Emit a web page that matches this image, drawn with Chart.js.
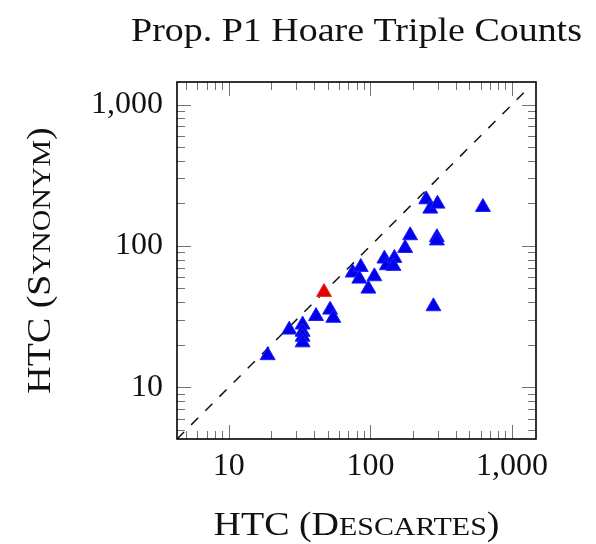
<!DOCTYPE html>
<html>
<head>
<meta charset="utf-8">
<script src="https://cdn.jsdelivr.net/npm/chart.js@4.4.1/dist/chart.umd.min.js"></script>
<style>
    html, body { margin: 0; padding: 0; background: #fff; }
    #wrap { width: 596px; height: 544px; }
</style>
</head>
<body>
<div id="wrap"><canvas id="htcChart" width="596" height="544"></canvas></div>
<script>
// Данные
const chartTitle = 'Prop. P1 Hoare Triple Counts';
const xTitle = 'HTC (Descartes)';
const yTitle = 'HTC (Synonym)';

const descartesHtc = [18.8, 26.7, 33.2, 33.2, 33.2, 33.2, 41.3, 51.9, 54.7, 75, 85.5, 83.5, 96.8,
    106.7, 125.6, 130.6, 147.8, 145.5, 176, 191, 248, 265, 298, 295, 295, 279, 624];
const synonymHtc = [16.8, 25.5, 27.7, 24.6, 22.7, 20.7, 31.8, 35.3, 30.9, 64.6, 70.8, 58.5, 49.7,
    60.8, 81.1, 72.8, 82.0, 72.0, 96.4, 118.6, 213, 183, 198.5, 115, 109, 37.3, 188];

// Выделенная точка (красная)
const highlightX = [47.0];
const highlightY = [47.1];

// Диагональ y = x
const diagonalEnds = [4.3, 1250];

// Подписи делений и границы осей
const majorTicks = [10, 100, 1000];
const xRange = [4.3, 1480];
const yRange = [4.3, 1445];

const FONT = "'Liberation Serif', 'Times New Roman', serif";
const FONT_SIZE = 32;
const TITLE_SIZE = 33;
const STRETCH = 1.15; // Computer Modern шире, чем Times

function toPoints(xs, ys) {
    return xs.map((x, i) => ({ x: x, y: ys[i] }));
}

function isDecadeMultiple(v) {
    const m = v / Math.pow(10, Math.floor(Math.log10(v) + 1e-9));
    return Math.abs(m - Math.round(m)) < 1e-6;
}

function isMajor(v) {
    return majorTicks.some(t => Math.abs(t - v) < 1e-6);
}

// Текст по центру (x, y), растянутый по горизонтали; smallCaps — капитель
function drawText(ctx, text, x, y, size, smallCaps) {
    const small = Math.round(size * 0.8);
    const runs = [];
    for (const ch of text) {
        const lower = smallCaps && ch !== ch.toUpperCase();
        const s = lower ? small : size;
        const c = lower ? ch.toUpperCase() : ch;
        if (runs.length && runs[runs.length - 1].size === s) runs[runs.length - 1].text += c;
        else runs.push({ text: c, size: s });
    }
    let total = 0;
    runs.forEach(r => {
        ctx.font = r.size + 'px ' + FONT;
        r.width = ctx.measureText(r.text).width;
        total += r.width;
    });
    ctx.save();
    ctx.translate(x, y);
    ctx.scale(STRETCH, 1);
    ctx.textAlign = 'left';
    let cx = -total / 2;
    runs.forEach(r => {
        ctx.font = r.size + 'px ' + FONT;
        ctx.fillText(r.text, cx, 0);
        cx += r.width;
    });
    ctx.restore();
}

const framePlugin = {
    id: 'frame',
    afterDraw(chart) {
        const ctx = chart.ctx;
        const a = chart.chartArea;
        const xs = chart.scales.x;
        const ys = chart.scales.y;
        ctx.save();

        // Деления внутри области, на всех четырёх сторонах
        ctx.strokeStyle = 'rgba(0,0,0,0.55)';
        ctx.lineWidth = 1;
        ctx.beginPath();
        xs.ticks.forEach(t => {
            if (!isDecadeMultiple(t.value)) return;
            const px = Math.round(xs.getPixelForValue(t.value)) + 0.5;
            const len = isMajor(t.value) ? 14 : 8;
            ctx.moveTo(px, a.bottom); ctx.lineTo(px, a.bottom - len);
            ctx.moveTo(px, a.top); ctx.lineTo(px, a.top + len);
        });
        ys.ticks.forEach(t => {
            if (!isDecadeMultiple(t.value)) return;
            const py = Math.round(ys.getPixelForValue(t.value)) + 0.5;
            const len = isMajor(t.value) ? 14 : 8;
            ctx.moveTo(a.left, py); ctx.lineTo(a.left + len, py);
            ctx.moveTo(a.right, py); ctx.lineTo(a.right - len, py);
        });
        ctx.stroke();

        // Рамка
        ctx.strokeStyle = '#000';
        ctx.lineWidth = 1.6;
        ctx.strokeRect(a.left, a.top, a.right - a.left, a.bottom - a.top);

        // Заголовки
        ctx.fillStyle = '#111';
        ctx.textBaseline = 'alphabetic';
        drawText(ctx, chartTitle, (a.left + a.right) / 2, 41, TITLE_SIZE, false);
        drawText(ctx, xTitle, (a.left + a.right) / 2, 535, TITLE_SIZE, true);

        ctx.translate(50, (a.top + a.bottom) / 2);
        ctx.rotate(-Math.PI / 2);
        drawText(ctx, yTitle, 0, 0, TITLE_SIZE, true);
        ctx.restore();
    }
};

const tickOptions = {
    autoSkip: false,
    maxRotation: 0,
    color: '#111',
    font: { family: FONT, size: FONT_SIZE },
    callback: (value) => isMajor(value) ? Number(value).toLocaleString('en-US') : ''
};

new Chart(document.getElementById('htcChart'), {
    type: 'scatter',
    data: {
        datasets: [
            {
                label: 'highlight',
                data: toPoints(highlightX, highlightY),
                pointStyle: 'triangle',
                pointRadius: 8.6,
                pointHoverRadius: 8.6,
                backgroundColor: 'rgb(225,0,0)',
                borderColor: 'rgb(240,40,40)',
                borderWidth: 1
            },
            {
                label: 'benchmarks',
                data: toPoints(descartesHtc, synonymHtc),
                pointStyle: 'triangle',
                pointRadius: 8.6,
                pointHoverRadius: 8.6,
                backgroundColor: 'rgb(0,0,235)',
                borderColor: 'rgb(30,30,250)',
                borderWidth: 1
            },
            {
                label: 'y = x',
                data: toPoints(diagonalEnds, diagonalEnds),
                showLine: true,
                pointRadius: 0,
                borderColor: '#111',
                borderWidth: 1.5,
                borderDash: [10, 10]
            }
        ]
    },
    options: {
        responsive: false,
        animation: false,
        devicePixelRatio: 1,
        layout: { padding: { left: 0, right: 60, top: 82, bottom: 0 } },
        plugins: {
            legend: { display: false },
            tooltip: { enabled: false },
            title: { display: false }
        },
        scales: {
            x: {
                type: 'logarithmic',
                min: xRange[0],
                max: xRange[1],
                grid: { display: false, drawTicks: false },
                border: { display: false },
                ticks: Object.assign({ padding: 8 }, tickOptions),
                afterFit: (scale) => { scale.height = 105; }
            },
            y: {
                type: 'logarithmic',
                min: yRange[0],
                max: yRange[1],
                grid: { display: false, drawTicks: false },
                border: { display: false },
                ticks: Object.assign({ padding: 14 }, tickOptions),
                afterFit: (scale) => { scale.width = 177; }
            }
        }
    },
    plugins: [framePlugin]
});
</script>
</body>
</html>
